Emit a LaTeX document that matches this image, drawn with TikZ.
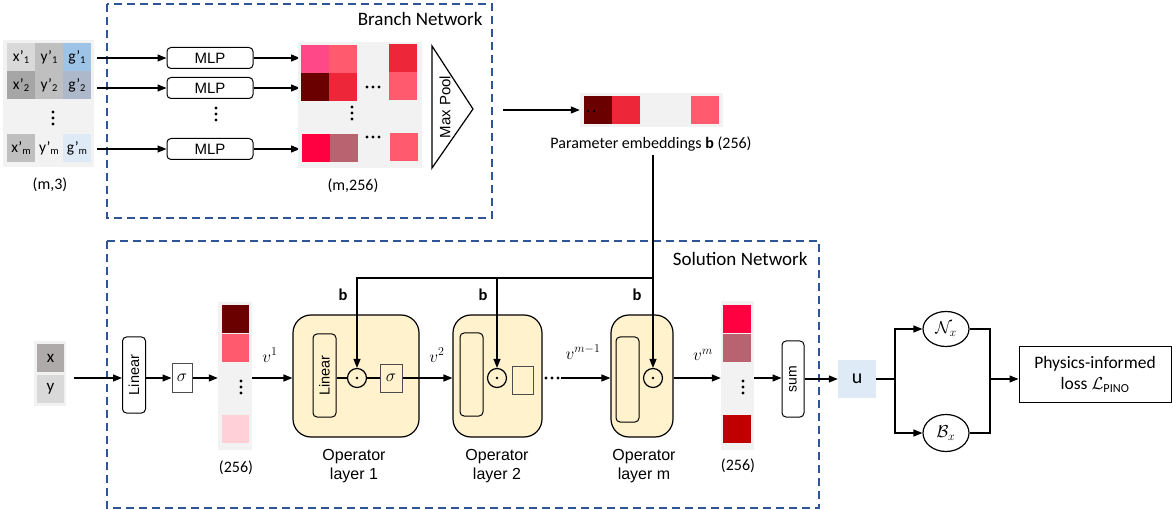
\documentclass[tikz,border=0pt]{standalone}
\usepackage{fontspec}
\setmainfont{Carlito}
\newfontfamily\arialf{Liberation Sans}
\usetikzlibrary{arrows.meta,shapes.geometric}
\definecolor{dashblue}{RGB}{47,85,151}
\definecolor{bgc}{RGB}{242,242,242}
\definecolor{cpink}{RGB}{255,72,136}
\definecolor{csalmon}{RGB}{255,90,110}
\definecolor{cred}{RGB}{238,38,58}
\definecolor{cdark}{RGB}{107,0,0}
\definecolor{cbright}{RGB}{255,0,64}
\definecolor{cmauve}{RGB}{185,99,113}
\definecolor{clight}{RGB}{255,208,216}
\definecolor{cdred}{RGB}{192,0,0}
\definecolor{cyel}{RGB}{255,242,204}
\definecolor{cublue}{RGB}{222,235,247}
\definecolor{gA}{RGB}{217,217,217}
\definecolor{gB}{RGB}{191,191,191}
\definecolor{gC}{RGB}{166,166,166}
\definecolor{gX}{RGB}{174,170,170}
\definecolor{bA}{RGB}{157,195,230}
\definecolor{bB}{RGB}{173,185,202}
\newcommand\sbs[1]{\raisebox{-0.3ex}{\fontsize{10.5}{10}\selectfont #1}}
\begin{document}
\begin{tikzpicture}[x=1pt,y=-1pt,
  arr/.style={-{Triangle[length=9pt,width=7pt]}, line width=1.2pt},
  conn/.style={line width=1.2pt},
  dashbox/.style={draw=dashblue, line width=1.3pt, dash pattern=on 8pt off 5pt},
  incell/.style={inner sep=0, minimum width=28pt, minimum height=28pt, font=\fontsize{15.5}{18}\selectfont},
  mlpbox/.style={draw, line width=1pt, rounded corners=4pt, minimum width=86pt, minimum height=21pt, inner sep=0, font=\arialf\fontsize{15}{16}\selectfont},
  rotbox/.style={draw, line width=1pt, rounded corners=4pt, rotate=90, inner sep=0, font=\arialf\fontsize{14.5}{16}\selectfont},
  sqbox/.style={draw=black!70, line width=1pt, inner sep=0, font=\fontsize{17}{18}\selectfont},
  opbox/.style={draw, line width=1.2pt, fill=cyel, rounded corners=18pt, inner sep=0},
  odot/.style={circle, draw, line width=1.2pt, minimum size=19pt, inner sep=0},
  lbl/.style={font=\fontsize{16}{19}\selectfont},
  oplbl/.style={align=center, font=\arialf\fontsize{16}{19}\selectfont},
  vlbl/.style={font=\fontsize{18}{20}\selectfont},
  blbl/.style={font=\bfseries\fontsize{16.5}{19}\selectfont}
]
\useasboundingbox (0,0) rectangle (1172,510);

% ---------------- Branch network ----------------
\draw[dashbox] (107,4) rectangle (492,218);
\node[anchor=east, font=\fontsize{19}{21}\selectfont] (brlbl) at (486,19) {Branch Network};

% input matrix
\fill[bgc] (3,40) rectangle (94,167);
\node[incell, fill=gA] (x1) at (21,57) {x'\sbs{1}};
\node[incell, fill=gB] (y1) at (49,57) {y'\sbs{1}};
\node[incell, fill=bA] (g1) at (77,57) {g'\sbs{1}};
\node[incell, fill=gC] (x2) at (21,85) {x'\sbs{2}};
\node[incell, fill=gB] (y2) at (49,85) {y'\sbs{2}};
\node[incell, fill=bB] (g2) at (77,85) {g'\sbs{2}};
\node[incell, fill=gB] (xm) at (21,148) {x'\sbs{m}};
\node[incell] (ym) at (49,148) {y'\sbs{m}};
\node[incell, fill=cublue] (gm) at (77,148) {g'\sbs{m}};
\foreach \d in {-6,0,6} \fill (53,118+\d) circle (1.7);
\node[lbl] (m3) at (50,185) {(m,3)};

% MLPs
\node[mlpbox] (mlp1) at (210,58) {MLP};
\node[mlpbox] (mlp2) at (210,88) {MLP};
\node[mlpbox] (mlpm) at (210,149) {MLP};
\foreach \d in {-6,0,6} \fill (216,114+\d) circle (1.7);
\coordinate (i1) at (97,58);
\coordinate (i2) at (97,88);
\coordinate (im) at (97,149);
\draw[arr] (i1) -- (mlp1.west);
\draw[arr] (i2) -- (mlp2.west);
\draw[arr] (im) -- (mlpm.west);
\coordinate (e1) at (300,58);
\coordinate (e2) at (300,88);
\coordinate (em) at (300,149);
\draw[arr] (mlp1.east) -- (e1);
\draw[arr] (mlp2.east) -- (e2);
\draw[arr] (mlpm.east) -- (em);

% embedding matrix
\fill[bgc] (298,42) rectangle (422,168);
\fill[cpink] (301,45) rectangle (329,73);
\fill[csalmon] (329,45) rectangle (357,73);
\fill[cdark] (301,73) rectangle (329,101);
\fill[cred] (329,73) rectangle (357,101);
\fill[cred] (389,44) rectangle (417,72);
\fill[csalmon] (389,72) rectangle (417,100);
\fill[cbright] (302,134) rectangle (330,162);
\fill[cmauve] (330,134) rectangle (358,162);
\fill[csalmon] (390,133) rectangle (418,161);
\foreach \d in {-6,0,6} \fill (373+\d,87) circle (1.7);
\foreach \d in {-6,0,6} \fill (373+\d,137) circle (1.7);
\foreach \d in {-6,0,6} \fill (352,113+\d) circle (1.7);
\node[lbl] (m256) at (353,186) {(m,256)};

% max pool
\draw[line width=1.2pt] (432,46) -- (473,109) -- (432,168) -- cycle;
\node[rotate=90, font=\arialf\fontsize{15}{16}\selectfont] (mp) at (445,107) {Max Pool};
\coordinate (mpout) at (503,110);

% parameter embeddings b
\node[fill=bgc, minimum width=143pt, minimum height=34pt, inner sep=0] (bemb) at (651.5,110) {};
\fill[cdark] (584,96) rectangle (612,124);
\fill[cred] (612,96) rectangle (640,124);
\fill[csalmon] (691,96) rectangle (719,124);
\fill (588,111) circle (1.3);
\fill (594,111) circle (1.3);
\draw[arr] (mpout) -- (bemb.west);
\node[font=\fontsize{16}{18}\selectfont] (plbl) at (651,144) {Parameter embeddings \textbf{b} (256)};

% ---------------- Solution network ----------------
\draw[dashbox] (107,241) rectangle (819,508);
\node[anchor=east, font=\fontsize{19}{21}\selectfont] (sollbl) at (811,259) {Solution Network};

% inputs x,y
\fill[bgc] (34,341) rectangle (66,406);
\node[incell, fill=gX, minimum width=27pt, font=\fontsize{17}{18}\selectfont] (xin) at (50.5,358) {x};
\node[incell, fill=gA, minimum width=27pt, font=\fontsize{17}{18}\selectfont] (yin) at (50.5,389) {y};
\coordinate (xyout) at (74,378);

\node[rotbox, minimum width=76pt, minimum height=23pt] (lin) at (134,375) {Linear};
\node[sqbox, minimum width=20pt, minimum height=29pt] (sig) at (182,378) {$\sigma$};

% vector 1
\node[fill=bgc, minimum width=34pt, minimum height=148pt, inner sep=0] (vec1) at (235,376) {};
\fill[cdark] (222,305) rectangle (249,333);
\fill[csalmon] (222,334) rectangle (249,362);
\fill[clight] (222,415) rectangle (249,443);
\foreach \d in {-6,0,6} \fill (241,387+\d) circle (1.7);
\node[lbl] (v1dim) at (236,468) {(256)};

% operator layer 1
\node[opbox, minimum width=126pt, minimum height=122pt] (op1) at (356,376) {};
\node[rotbox, minimum width=83pt, minimum height=23pt] (lin1) at (324.5,375.5) {Linear};
\node[odot] (od1) at (357,378) {};
\fill (od1) circle (1.4);
\node[sqbox, minimum width=22pt, minimum height=28pt] (s1) at (391,378) {$\sigma$};
\draw[conn] (lin1.south |- od1) -- (od1.west);
\draw[conn] (od1.east) -- (s1.west);
\node[oplbl] (op1lbl) at (354,466) {Operator\\layer 1};

% operator layer 2
\node[opbox, minimum width=89pt, minimum height=122pt] (op2) at (497.5,376) {};
\node[draw, line width=1pt, rounded corners=4pt, minimum width=23pt, minimum height=83pt, inner sep=0] (in2) at (471.5,374.5) {};
\node[odot] (od2) at (497,378) {};
\fill (od2) circle (1.4);
\node[sqbox, minimum width=21pt, minimum height=28pt] (s2) at (522.5,380) {};
\node[oplbl] (op2lbl) at (497,466) {Operator\\layer 2};

% operator layer m
\node[opbox, minimum width=62pt, minimum height=122pt] (opm) at (642,376) {};
\node[draw, line width=1pt, rounded corners=4pt, minimum width=23pt, minimum height=85pt, inner sep=0] (inm) at (627.5,379.5) {};
\node[odot] (odm) at (653,378) {};
\fill (odm) circle (1.4);
\node[oplbl] (opmlbl) at (644,466) {Operator\\layer m};

\node[inner sep=0, minimum width=17pt, minimum height=4pt] (cdots) at (552,378) {};
\foreach \d in {-6,0,6} \fill (552+\d,378) circle (1.6);

% vector m
\node[fill=bgc, minimum width=33pt, minimum height=149pt, inner sep=0] (vecm) at (737.5,375.5) {};
\fill[cbright] (723,305) rectangle (751,333);
\fill[cmauve] (723,334) rectangle (751,362);
\fill[cdred] (723,415) rectangle (751,443);
\foreach \d in {-6,0,6} \fill (743,387+\d) circle (1.7);
\node[lbl] (vmdim) at (738,466) {(256)};

\node[rotbox, minimum width=76pt, minimum height=22pt, font=\arialf\fontsize{14}{16}\selectfont] (sum) at (793,379) {sum};

% main chain arrows (rotated boxes: north = left side, south = right side)
\draw[arr] (xyout) -- (lin.north |- xyout);
\draw[arr] (lin.south |- sig) -- (sig.west);
\draw[arr] (sig.east) -- (vec1.west |- sig);
\draw[arr] (vec1.east |- od1) -- (op1.west |- od1);
\draw[arr] (s1.east) -- (op2.west |- s1);
\draw[arr] (cdots.east) -- (opm.west |- cdots);
\draw[arr] (opm.east |- odm) -- (vecm.west |- odm);
\draw[arr] (vecm.east |- odm) -- (sum.north |- odm);

\node[vlbl] (v1) at (270,355) {$v^{1}$};
\node[vlbl] (v2) at (437,355) {$v^{2}$};
\node[vlbl] (vm1) at (583,352) {$v^{m-1}$};
\node[vlbl] (vm) at (703,355) {$v^{m}$};

% b feed lines
\coordinate (jt) at (653,278);
\draw[arr] (plbl.south -| odm) -- (odm.north);
\draw[arr] (jt) -| (od1.north);
\draw[arr] (od2 |- jt) -- (od2.north);
\node[blbl] (b1) at (343,295) {b};
\node[blbl] (b2) at (483,295) {b};
\node[blbl] (b3) at (637,295) {b};

% ---------------- physics loss ----------------
\node[fill=cublue, minimum width=38pt, minimum height=38pt, inner sep=0, font=\fontsize{20}{21}\selectfont] (u) at (857,379) {u};
\draw[arr] (sum.south |- u) -- (u.west);
\coordinate (j1) at (895,379);
\node[ellipse, draw, line width=1.2pt, minimum width=46pt, minimum height=35pt, inner sep=0, font=\fontsize{18}{20}\selectfont] (N) at (946,329) {$\mathcal{N}_x$};
\node[ellipse, draw, line width=1.2pt, minimum width=46pt, minimum height=37pt, inner sep=0, font=\fontsize{18}{20}\selectfont] (B) at (946,433) {$\mathcal{B}_x$};
\draw[conn] (u.east) -- (j1);
\draw[arr] (j1) |- (N.west);
\draw[arr] (j1) |- (B.west);
\coordinate (j2) at (990,379);
\draw[conn] (N.east) -| (j2);
\draw[conn] (B.east) -| (j2);
\node[draw, line width=1pt, minimum width=152pt, minimum height=55pt, inner sep=0, align=center, font=\fontsize{17.5}{21}\selectfont] (loss) at (1095,374.5) {Physics-informed\\loss $\mathcal{L}_{\mathrm{PINO}}$};
\draw[arr] (j2) -- (loss.west |- j2);
\end{tikzpicture}
\end{document}
